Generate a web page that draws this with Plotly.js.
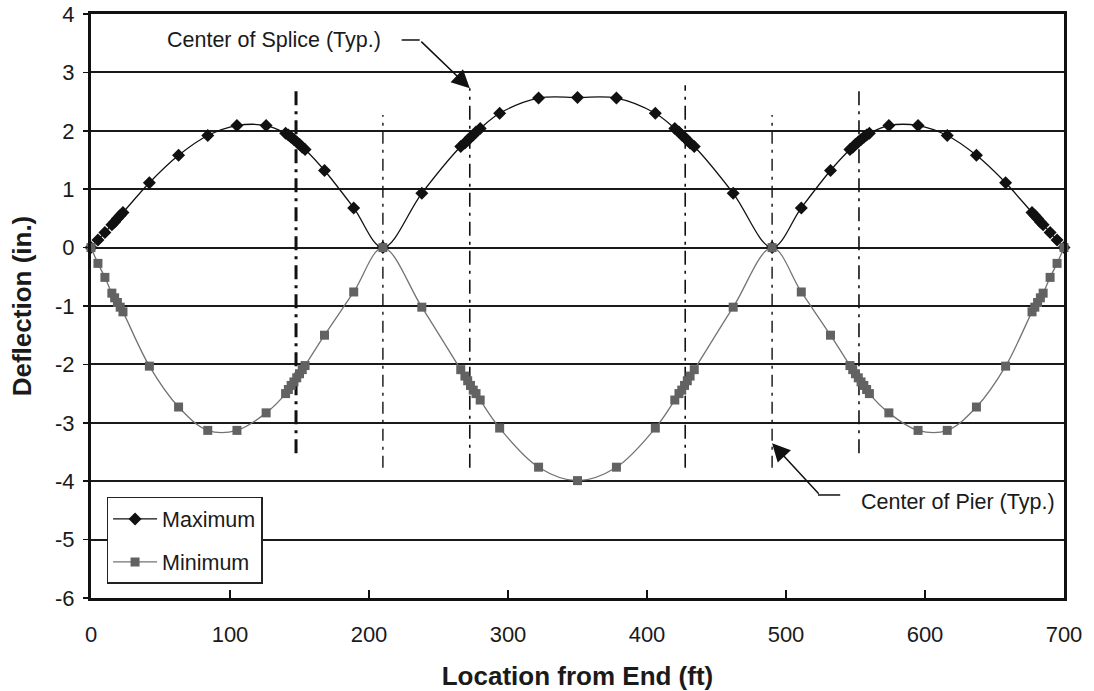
<!DOCTYPE html>
<html>
<head>
<meta charset="utf-8">
<script src="https://cdn.plot.ly/plotly-3.0.1.min.js"></script>
<style>
html,body{margin:0;padding:0;background:#fff;}
#chart{width:1094px;height:691px;}
</style>
</head>
<body>
<div id="chart"></div>
<script>
// Stations along the bridge (ft)
const locationFt = [
  0, 5, 10, 15, 17, 19, 21, 23, 42, 63, 84, 105, 126,
  140, 142, 144, 146, 148, 150, 152, 154, 168, 189, 210,
  238, 266, 269, 271, 273, 275, 277, 280, 294, 322, 350, 378, 406,
  420, 423, 425, 427, 429, 431, 434, 462, 490,
  511, 532, 546, 548, 550, 552, 554, 556, 558, 560, 574, 595, 616,
  637, 658, 677, 679, 681, 683, 685, 690, 695, 700
];
// Maximum deflection (in.)
const maximumIn = [
  0, 0.13, 0.26, 0.39, 0.44, 0.50, 0.55, 0.60, 1.11, 1.58, 1.92, 2.09, 2.09,
  1.96, 1.93, 1.89, 1.85, 1.81, 1.77, 1.72, 1.68, 1.32, 0.68, 0,
  0.93, 1.73, 1.79, 1.84, 1.89, 1.93, 1.98, 2.04, 2.30, 2.56, 2.57, 2.56, 2.30,
  2.04, 1.98, 1.93, 1.89, 1.84, 1.79, 1.73, 0.93, 0,
  0.68, 1.32, 1.68, 1.72, 1.77, 1.81, 1.85, 1.89, 1.93, 1.96, 2.09, 2.09, 1.92,
  1.58, 1.11, 0.60, 0.55, 0.50, 0.44, 0.39, 0.26, 0.13, 0
];
// Minimum deflection (in.)
const minimumIn = [
  0, -0.27, -0.51, -0.78, -0.86, -0.94, -1.02, -1.10, -2.03, -2.73, -3.13, -3.13, -2.83,
  -2.50, -2.43, -2.36, -2.30, -2.23, -2.16, -2.09, -2.02, -1.50, -0.76, 0,
  -1.02, -2.09, -2.20, -2.28, -2.36, -2.44, -2.50, -2.61, -3.09, -3.76, -3.99, -3.76, -3.09,
  -2.61, -2.50, -2.44, -2.36, -2.28, -2.20, -2.09, -1.02, 0,
  -0.76, -1.50, -2.02, -2.09, -2.16, -2.23, -2.30, -2.36, -2.43, -2.50, -2.83, -3.13, -3.13,
  -2.73, -2.03, -1.10, -1.02, -0.94, -0.86, -0.78, -0.51, -0.27, 0
];
const seriesNames = ["Maximum", "Minimum"];
const xTickVals = [0, 100, 200, 300, 400, 500, 600, 700];
const yTickVals = [-6, -5, -4, -3, -2, -1, 0, 1, 2, 3, 4];
const spliceLocations = [147.5, 272.5, 427.5, 552.5];
const pierLocations = [210, 490];

const FONT = "Liberation Sans, Arial, Helvetica, sans-serif";
const INK = "#1a1a1a";

const traces = [
  {
    x: locationFt, y: maximumIn, name: seriesNames[0], type: "scatter",
    mode: "lines+markers", cliponaxis: false, legendgroup: "max",
    line: {color: "#111111", width: 1.3, shape: "spline", smoothing: 1},
    marker: {symbol: "diamond", size: 10, color: "#111111"}
  },
  {
    x: locationFt, y: minimumIn, name: seriesNames[1], type: "scatter",
    mode: "lines+markers", cliponaxis: false, legendgroup: "min",
    line: {color: "#737373", width: 1.3, shape: "spline", smoothing: 1},
    marker: {symbol: "square", size: 9, color: "#626262"}
  }
];

// vertical extents of reference lines (deflection units)
const spliceTop = [2.77, 2.73, 2.78, 2.78];
const spliceBottom = [-3.52, -3.77, -3.77, -3.52];
const spliceWidth = [3, 1.6, 1.6, 1.6];
const pierTop = [2.27, 2.27];
const pierBottom = [-3.77, -3.77];

const shapes = [];
spliceLocations.forEach((xv, i) => {
  shapes.push({type: "line", xref: "x", yref: "y", x0: xv, x1: xv,
    y0: spliceBottom[i], y1: spliceTop[i], layer: "between",
    line: {color: "#111", width: spliceWidth[i], dash: "14px,6px,3px,6px"}});
});
pierLocations.forEach((xv, i) => {
  shapes.push({type: "line", xref: "x", yref: "y", x0: xv, x1: xv,
    y0: pierBottom[i], y1: pierTop[i], layer: "between",
    line: {color: "#111", width: 1.4, dash: "12px,6px,3px,6px"}});
});
// leader-line elbows
shapes.push({type: "line", xref: "x", yref: "y", x0: 223.5, x1: 236.5, y0: 3.555, y1: 3.555,
  line: {color: "#111", width: 1.5}});
shapes.push({type: "line", xref: "x", yref: "y", x0: 523, x1: 539, y0: -4.236, y1: -4.236,
  line: {color: "#111", width: 1.5}});

const annotations = [
  {x: 132, y: 3.555, xref: "x", yref: "y", text: "Center of Splice (Typ.)", showarrow: false,
   font: {family: FONT, size: 21.5, color: INK}},
  {x: 624, y: -4.36, xref: "x", yref: "y", text: "Center of Pier (Typ.)", showarrow: false,
   font: {family: FONT, size: 21.5, color: INK}},
  {x: 272.5, y: 2.73, xref: "x", yref: "y", text: "", showarrow: true,
   ax: -50, ay: -48, arrowhead: 2, arrowsize: 2.4, arrowwidth: 1.5, arrowcolor: "#111"},
  {x: 490, y: -3.35, xref: "x", yref: "y", text: "", showarrow: true,
   ax: 48, ay: 52, arrowhead: 2, arrowsize: 2.4, arrowwidth: 1.5, arrowcolor: "#111"}
];

const layout = {
  width: 1094, height: 691,
  paper_bgcolor: "#ffffff", plot_bgcolor: "#ffffff",
  font: {family: FONT, color: INK},
  margin: {l: 91, r: 30, t: 14, b: 93, pad: 0},
  showlegend: true,
  legend: {
    x: 0.016, y: 0.173, xanchor: "left", yanchor: "top",
    bgcolor: "#ffffff", bordercolor: "#222", borderwidth: 1.5,
    font: {family: FONT, size: 21.5, color: INK},
    tracegroupgap: 12, itemwidth: 44
  },
  xaxis: {
    range: [0, 700], tickvals: xTickVals, ticktext: xTickVals.map(String),
    showgrid: false, zeroline: false,
    showline: true, mirror: true, linewidth: 3, linecolor: "#111",
    ticks: "inside", ticklen: 8, tickwidth: 1.5, tickcolor: "#111",
    tickfont: {family: FONT, size: 22, color: INK},
    ticklabelstandoff: 15,
    title: {text: "<b>Location from End (ft)</b>", font: {family: FONT, size: 26, color: INK}, standoff: 21}
  },
  yaxis: {
    range: [-6, 4], tickvals: yTickVals, ticktext: yTickVals.map(String),
    showgrid: true, gridcolor: "#1a1a1a", gridwidth: 2, zeroline: false,
    showline: true, mirror: true, linewidth: 3, linecolor: "#111",
    ticks: "outside", ticklen: 5, tickwidth: 1.5, tickcolor: "#111",
    tickfont: {family: FONT, size: 22, color: INK},
    ticklabelstandoff: 4,
    title: {text: "<b>Deflection (in.)</b>", font: {family: FONT, size: 26, color: INK}, standoff: 16}
  },
  shapes: shapes,
  annotations: annotations
};

Plotly.newPlot("chart", traces, layout, {displayModeBar: false, staticPlot: true});
</script>
</body>
</html>
